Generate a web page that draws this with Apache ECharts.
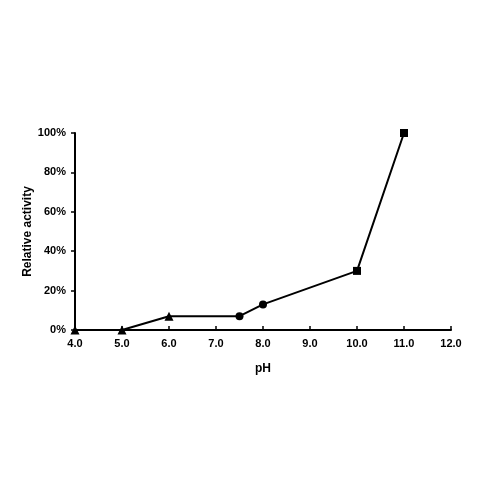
<!DOCTYPE html>
<html><head><meta charset="utf-8">
<script src="https://cdn.jsdelivr.net/npm/echarts@6/dist/echarts.min.js"></script>
<style>html,body{margin:0;padding:0;background:#fff}#c{width:480px;height:480px}</style>
</head><body><div id="c"></div>
<script>
const phValues = [4.0, 5.0, 6.0, 7.5, 8.0, 10.0, 11.0];
const activityValues = [0, 0, 7, 7, 13, 30, 100];
const markerShapes = ['triangle','triangle','triangle','circle','circle','rect','rect'];
const xTicks = [4, 5, 6, 7, 8, 9, 10, 11, 12];
const yTicks = [0, 20, 40, 60, 80, 100];

const font = 'Liberation Sans, Arial, sans-serif';
const chart = echarts.init(document.getElementById('c'));
chart.setOption({
  animation: false,
  grid: {left: 75, right: 29, top: 133, bottom: 150},
  xAxis: {
    type: 'value', min: xTicks[0], max: xTicks[xTicks.length-1], interval: 1,
    name: 'pH', nameLocation: 'middle', nameGap: 33,
    nameTextStyle: {fontFamily: font, fontWeight: 'bold', fontSize: 12, color: '#000'},
    axisLine: {lineStyle: {color: '#000', width: 2}},
    axisTick: {inside: true, length: 4, lineStyle: {color: '#000', width: 1.5}},
    axisLabel: {fontFamily: font, fontWeight: 'bold', fontSize: 11, color: '#000', margin: 8,
      formatter: v => v.toFixed(1)},
    splitLine: {show: false}
  },
  yAxis: {
    type: 'value', min: yTicks[0], max: yTicks[yTicks.length-1], interval: 20,
    name: 'Relative activity', nameLocation: 'middle', nameGap: 41, nameRotate: 90,
    nameMoveOverlap: false,
    nameTextStyle: {fontFamily: font, fontWeight: 'bold', fontSize: 12, color: '#000'},
    axisLine: {show: true, lineStyle: {color: '#000', width: 2}},
    axisTick: {show: true, length: 4, lineStyle: {color: '#000', width: 1.5}},
    axisLabel: {fontFamily: font, fontWeight: 'bold', fontSize: 11, color: '#000', margin: 9,
      formatter: v => v + '%'},
    splitLine: {show: false}
  },
  series: [{
    type: 'line',
    data: phValues.map((x, i) => ({value: [x, activityValues[i]], symbol: markerShapes[i],
      symbolSize: markerShapes[i] === 'triangle' ? 9 : 8})),
    lineStyle: {color: '#000', width: 2},
    itemStyle: {color: '#000'},
    clip: false
  }]
});
</script></body></html>
